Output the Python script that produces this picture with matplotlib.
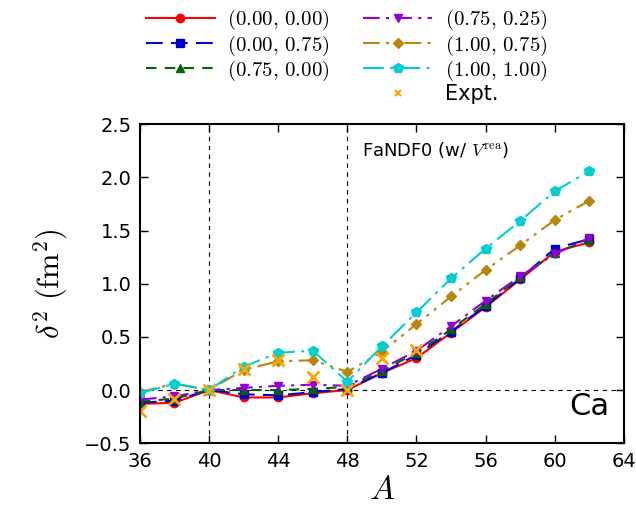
import numpy as np
import matplotlib
matplotlib.use("Agg")
import matplotlib.pyplot as plt
from matplotlib.lines import Line2D

plt.rcParams['mathtext.fontset'] = 'cm'
plt.rcParams['font.family'] = 'DejaVu Sans'

# mass numbers
A = [36, 38, 40, 42, 44, 46, 48, 50, 52, 54, 56, 58, 60, 62]

# delta r^2 for each (alpha, beta) setting
d_00_00 = [-0.13, -0.12, 0.00, -0.07, -0.07, -0.03, 0.00, 0.16, 0.30, 0.54, 0.78, 1.04, 1.30, 1.39]
d_00_75 = [-0.12, -0.10, 0.00, -0.04, -0.05, -0.02, 0.01, 0.16, 0.33, 0.55, 0.79, 1.05, 1.33, 1.42]
d_75_00 = [-0.11, -0.08, 0.00, 0.00, 0.00, 0.01, 0.03, 0.18, 0.35, 0.57, 0.81, 1.06, 1.29, 1.41]
d_75_25 = [-0.09, -0.06, 0.00, 0.02, 0.04, 0.05, 0.04, 0.20, 0.37, 0.60, 0.84, 1.07, 1.28, 1.43]
d_100_75 = [-0.02, 0.06, 0.00, 0.19, 0.27, 0.28, 0.17, 0.36, 0.62, 0.88, 1.13, 1.36, 1.60, 1.78]
d_100_100 = [-0.03, 0.06, 0.00, 0.22, 0.35, 0.37, 0.08, 0.41, 0.73, 1.05, 1.33, 1.59, 1.87, 2.06]

A_expt = [36, 38, 40, 42, 44, 46, 48, 50, 52]
d_expt = [-0.20, -0.08, 0.00, 0.20, 0.28, 0.12, 0.00, 0.30, 0.38]

fig = plt.figure(figsize=(6.36, 5.22), dpi=100)
ax = fig.add_axes([0.220, 0.151, 0.761, 0.611])

ax.axvline(40, color='k', ls=(0, (4, 4)), lw=0.8)
ax.axvline(48, color='k', ls=(0, (4, 4)), lw=0.8)
ax.axhline(0, color='k', ls=(0, (4, 4)), lw=0.8)

ms = 6
l1, = ax.plot(A, d_00_00, color='red', ls='-', marker='o', ms=ms, lw=1.5, label=r'$(0.00,\,0.00)$')
l2, = ax.plot(A, d_00_75, color='#0000cc', ls=(0, (8, 4)), marker='s', ms=ms, lw=1.5, label=r'$(0.00,\,0.75)$')
l3, = ax.plot(A, d_75_00, color='darkgreen', ls=(0, (5, 4)), marker='^', ms=ms, lw=1.5, label=r'$(0.75,\,0.00)$')
l4, = ax.plot(A, d_75_25, color='darkviolet', ls=(0, (8, 3, 1.5, 3)), marker='v', ms=ms, lw=1.5, label=r'$(0.75,\,0.25)$')
l5, = ax.plot(A, d_100_75, color='darkgoldenrod', ls=(0, (8, 3, 1.5, 3, 1.5, 3)), marker='D', ms=5, lw=1.5, label=r'$(1.00,\,0.75)$')
l6, = ax.plot(A, d_100_100, color='darkturquoise', ls=(0, (10, 3, 1.5, 3)), marker='p', ms=7, lw=1.5, label=r'$(1.00,\,1.00)$')
ax.plot(A_expt, d_expt, color='orange', ls='none', marker='x', ms=8, mew=2)

# smaller marker for the legend entry
l7 = Line2D([], [], color='orange', ls='none', marker='x', ms=5, mew=1.5)
blank = Line2D([], [], ls='none')
handles = [l1, l2, l3, blank, l4, l5, l6, l7]
labels = [h.get_label() for h in [l1, l2, l3]] + [''] + [h.get_label() for h in [l4, l5, l6]] + ['Expt.']
fig.legend(handles, labels, ncol=2, loc='upper center', bbox_to_anchor=(0.545, 1.02),
           frameon=False, fontsize=15, handlelength=3.3, numpoints=1,
           labelspacing=0.05, columnspacing=1.6, handletextpad=0.6)

ax.set_xlim(36, 64)
ax.set_ylim(-0.5, 2.5)
ax.set_xticks(np.arange(36, 65, 4))
ax.set_yticks(np.arange(-0.5, 2.6, 0.5))
ax.set_yticklabels(['\u22120.5', '0.0', '0.5', '1.0', '1.5', '2.0', '2.5'])
ax.tick_params(direction='in', top=True, right=True, length=6, width=1, labelsize=14, pad=6)
for s in ax.spines.values():
    s.set_linewidth(1.5)

ax.set_xlabel(r'$A$', fontsize=24, labelpad=2)
ax.set_ylabel(r'$\delta^2\ (\mathrm{fm}^2)$', fontsize=22, labelpad=10)

ax.text(0.458, 0.95, r'FaNDF0 (w/ $V^{\mathrm{rea}}$)', transform=ax.transAxes, fontsize=13, va='top', ha='left')
ax.text(0.97, 0.07, 'Ca', transform=ax.transAxes, fontsize=22, ha='right', va='bottom')

fig.savefig('out.png', dpi=100)
